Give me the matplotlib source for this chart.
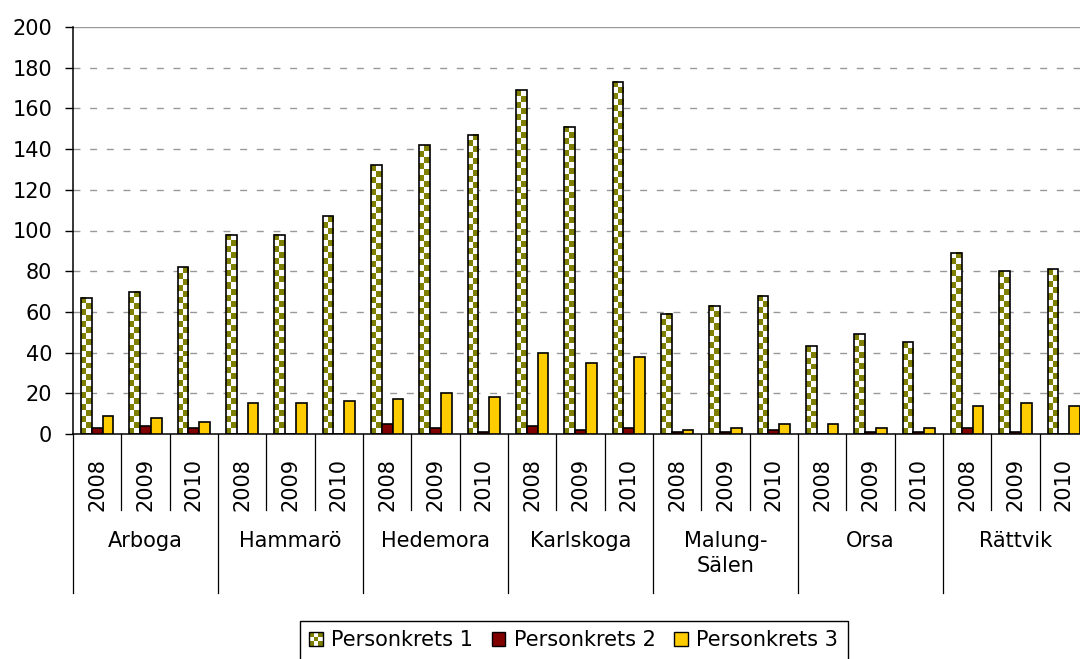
import numpy as np
import matplotlib.pyplot as plt
import matplotlib.transforms as mtransforms
from matplotlib.colors import ListedColormap
from matplotlib.patches import Rectangle
from matplotlib.legend_handler import HandlerBase

plt.rcParams['font.family'] = ['DejaVu Sans']
plt.rcParams['lines.scale_dashes'] = False

# data
towns = ['Arboga', 'Hammarö', 'Hedemora', 'Karlskoga', 'Malung-\nSälen', 'Orsa', 'Rättvik']
years = ['2008', '2009', '2010']
series_names = ['Personkrets 1', 'Personkrets 2', 'Personkrets 3']
krets1 = [67, 70, 82, 98, 98, 107, 132, 142, 147, 169, 151, 173, 59, 63, 68, 43, 49, 45, 89, 80, 81]
krets2 = [3, 4, 3, 0, 0, 0, 5, 3, 1, 4, 2, 3, 1, 1, 2, 0, 1, 1, 3, 1, 0]
krets3 = [9, 8, 6, 15, 15, 16, 17, 20, 18, 40, 35, 38, 2, 3, 5, 5, 3, 3, 14, 15, 14]

OLIVE = '#808000'
DARKRED = '#800000'
YELLOW = '#FFCC00'
FS = 15

W, H = 1080, 659
fig = plt.figure(figsize=(W / 100, H / 100), dpi=100)
# the plot area runs a bit past the right edge of the picture, like the original
ax = fig.add_axes([73 / W, (H - 434) / H, 1015 / W, 407 / H])

n = len(krets1)
x = np.arange(n)
bw = 0.222

# checkered bars: draw outline only, fill with a small checker image
b1 = ax.bar(x - bw, krets1, bw, facecolor='none', edgecolor='black', linewidth=1.2, zorder=3)
b2 = ax.bar(x, krets2, bw, facecolor=DARKRED, edgecolor='black', linewidth=1.2, zorder=3)
b3 = ax.bar(x + bw, krets3, bw, facecolor=YELLOW, edgecolor='black', linewidth=1.2, zorder=3)

check_cmap = ListedColormap([OLIVE, 'white'])
px_per_unit = 407 / 200
for bar in b1:
    bx, by = bar.get_x(), bar.get_y()
    w, h = bar.get_width(), bar.get_height()
    rows = max(1, int(round(h * px_per_unit / 6)))
    img = np.indices((rows, 2)).sum(0) % 2
    ax.imshow(img, extent=(bx, bx + w, by, by + h), origin='lower', cmap=check_cmap,
              interpolation='nearest', aspect='auto', zorder=2)

ax.set_xlim(-0.5, n - 0.5)
ax.set_ylim(0, 200)
ax.set_yticks(np.arange(0, 201, 20))
ax.tick_params(axis='y', length=6, width=1, pad=9, labelsize=FS, direction='out')
ax.set_xticks([])

# grid
for v in np.arange(20, 200, 20):
    ax.axhline(v, color='#999999', linewidth=1, linestyle=(0, (5, 7)), zorder=1)
ax.axhline(200, color='#999999', linewidth=1, zorder=1)

for s in ['top', 'right']:
    ax.spines[s].set_visible(False)
ax.spines['left'].set_linewidth(1.1)
ax.spines['bottom'].set_linewidth(1.1)

# multi-level category axis
trans = mtransforms.blended_transform_factory(ax.transData, ax.transAxes)
inner_depth = -(510 - 434) / 407
outer_depth = -(593 - 434) / 407
for i in range(n + 1):
    depth = outer_depth if i % 3 == 0 else inner_depth
    ax.plot([i - 0.5, i - 0.5], [0, depth], color='black', linewidth=0.9,
            transform=trans, clip_on=False)
for i in range(n):
    ax.text(i, -(484.5 - 434) / 407, years[i % 3], rotation=90, ha='center', va='center',
            fontsize=FS, transform=trans)
for g, town in enumerate(towns):
    ax.text(3 * g + 1, -(531 - 434) / 407, town, ha='center', va='top', fontsize=FS,
            linespacing=1.3, transform=trans)


class CheckerHandler(HandlerBase):
    def create_artists(self, legend, orig_handle, xdescent, ydescent, width, height, fontsize, trans):
        arts = []
        k = 3
        sw, sh = width / k, height / k
        for i in range(k):
            for j in range(k):
                c = OLIVE if (i + j) % 2 == 0 else 'white'
                arts.append(Rectangle((-xdescent + i * sw, -ydescent + j * sh), sw, sh,
                                      facecolor=c, linewidth=0, transform=trans))
        arts.append(Rectangle((-xdescent, -ydescent), width, height, fill=False,
                              edgecolor='black', linewidth=1, transform=trans))
        return arts


h1 = Rectangle((0, 0), 1, 1)
h2 = Rectangle((0, 0), 1, 1, facecolor=DARKRED, edgecolor='black', linewidth=1)
h3 = Rectangle((0, 0), 1, 1, facecolor=YELLOW, edgecolor='black', linewidth=1)
leg = fig.legend([h1, h2, h3], series_names, loc='upper left',
                 bbox_to_anchor=(300 / W, 1 - 621 / H), borderaxespad=0, ncol=3, fontsize=FS,
                 handler_map={h1: CheckerHandler()}, handlelength=0.65, handleheight=0.65,
                 handletextpad=0.4, columnspacing=0.9, borderpad=0.45,
                 fancybox=False, framealpha=1, edgecolor='black')
leg.get_frame().set_linewidth(1)

fig.savefig('out.png', dpi=100)
